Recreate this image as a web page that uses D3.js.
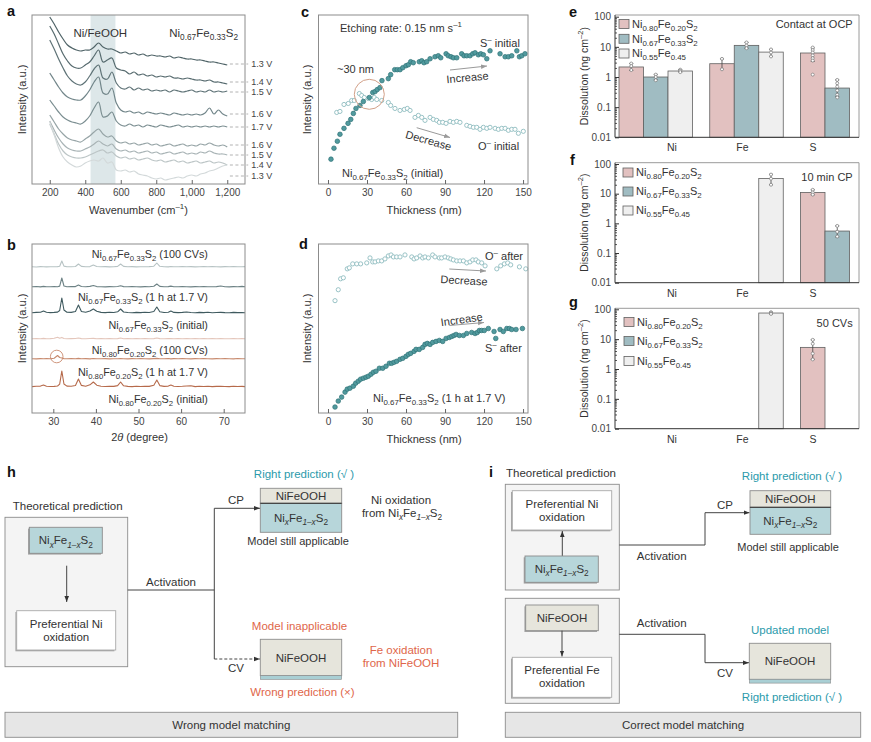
<!DOCTYPE html>
<html><head><meta charset="utf-8">
<script src="https://cdn.jsdelivr.net/npm/d3@7/dist/d3.min.js"></script>
<style>html,body{margin:0;padding:0;background:#fff;}svg{display:block}</style>
</head><body>
<svg id="fig" width="871" height="742"></svg>
<script>
// ================= DATA =================
// Panel a: Raman spectra (offset intensities, a.u.)
const ramanShift = [200,225,250,275,300,325,350,375,400,425,450,475,500,525,550,575,600,625,650,675,700,725,750,775,800,825,850,875,900,925,950,975,1000,1025,1050,1075,1100,1125,1150,1175,1200];
const raman13Va = [167,160,152,145,139,136,134,133,134,134,137,141,137,135,135,133,131,132,130,131,129,130,128,129,128,128,127,128,126,127,126,125,125,124,124,123,122,122,121,120,119];
const raman14Va = [158,150,140,130,123,118,116,116,119,122,128,134,122,124,126,116,114,113,110,112,109,110,108,109,107,108,107,108,106,106,105,106,105,104,104,103,104,102,102,101,100];
const raman15Va = [144,135,125,116,108,103,100,99,102,108,115,119,106,105,112,101,96,95,97,94,96,94,95,93,94,93,94,92,94,93,92,93,94,92,93,92,94,92,93,92,93];
const raman16Va = [111,104,97,91,87,85,84,84,88,94,102,107,91,90,96,81,74,72,73,71,72,70,72,71,70,71,70,69,71,70,69,70,69,70,69,71,76,70,74,70,68];
const raman17V  = [84,78,72,67,64,62,61,60,63,68,76,82,67,68,72,63,59,58,60,58,59,57,59,58,57,59,58,57,58,59,57,58,57,58,57,58,57,58,57,58,57];
const raman16Vb = [69,62,55,50,46,44,43,42,45,48,52,55,50,47,48,43,41,42,40,41,39,40,41,39,40,38,39,40,38,39,40,38,39,38,40,39,41,39,38,39,37];
const raman15Vb = [63,54,46,40,36,34,33,33,35,37,40,43,40,38,40,35,33,34,32,33,31,32,33,31,32,30,31,32,30,31,32,30,31,30,32,31,33,31,30,30,29];
const raman14Vb = [60,50,40,33,29,27,26,26,27,29,31,33,34,31,32,28,26,27,25,26,24,25,26,24,23,24,22,23,24,22,23,21,22,23,21,22,23,21,22,21,19];
const raman13Vb = [62,49,36,27,22,19,17,18,21,23,24,23,26,21,22,14,13,14,12,13,10,9,8,6,5,6,4,5,6,7,6,8,9,8,10,11,13,14,16,18,19];
const ramanLabels = ["1.3 V","1.4 V","1.5 V","1.6 V","1.7 V","1.6 V","1.5 V","1.4 V","1.3 V"];
const ramanLevels = [120,102,92,70,57,39,29,19,8];
const ramanBand = [430,570];
const ramanTicks = [200,400,600,800,1000,1200];

// Panel b: XRD patterns
const xrdTheta = [25,26,27,27.7,28.4,29.3,30.2,31.0,31.5,32.0,32.5,33.2,34.2,35.2,35.9,36.6,37.6,38.6,39.4,40.2,41.2,42.2,43.2,44.2,45.1,45.8,46.5,47.5,48.5,49.5,50.5,51.5,52.5,53.6,54.3,55.0,56.0,57.0,57.6,58.3,59.3,60.3,61.3,62.3,63.3,64.3,65.3,66.3,67.3,68.3,69.3,70.3,71.3,72.3,73.3,74.3,75];
const xrd67CV = [0.3,0.0,0.4,0.3,0.1,0.3,0.2,0.4,0.8,6.0, 0.9,0.3,0.2,0.5,3.0,0.6,0.2,0.4,2.0,0.5, 0.2,0.4,0.1,0.3,0.6,3.0,0.6,0.2,0.4,0.1, 0.3,0.2,0.4,0.8,4.0,0.7,0.3,0.1,0.5,0.2, 0.3,0.5,0.2,0.4,0.1,0.3,0.5,0.2,0.4,0.3, 0.1,0.4,0.2,0.5,0.3,0.2,0.4];
const xrd67CP = [0.2,0.5,0.1,0.6,0.3,0.2,0.4,0.3,0.9,9.0, 1.0,0.3,0.5,0.4,2.0,0.5,0.2,0.6,1.5,0.4, 0.3,0.1,0.4,0.2,0.5,1.2,0.4,0.2,0.5,0.3, 0.1,0.4,0.3,0.7,3.0,0.6,0.2,0.4,0.9,0.3, 0.2,0.5,0.3,0.1,0.4,0.2,0.5,0.3,0.2,0.4, 1.0,0.3,0.1,0.4,0.2,0.6,0.3];
const xrd67In = [0.3,0.6,0.8,2.0,0.7,0.4,0.6,0.9,2.5,15.0, 3.0,0.8,0.6,1.5,8.0,1.5,0.7,2.0,4.0,1.8, 0.6,0.4,0.7,0.5,1.2,4.0,1.0,0.5,0.3,0.6, 0.4,0.7,0.5,1.5,6.0,1.2,0.5,0.8,2.0,0.6, 0.4,0.6,1.0,0.5,0.3,0.6,0.4,0.7,0.3,0.5, 0.6,0.4,0.3,0.6,0.4,0.5,0.3];
const xrd80CV = [0.2,0.4,0.3,0.6,0.3,0.4,0.7,1.8,0.8,1.6, 0.5,0.3,0.4,0.5,1.0,0.4,0.2,0.5,0.6,0.3, 0.4,0.2,0.5,0.3,0.4,1.0,0.3,0.5,0.2,0.4, 0.3,0.5,0.2,0.4,1.0,0.4,0.3,0.5,0.4,0.2, 0.4,0.3,0.5,0.2,0.4,0.3,0.5,0.2,0.4,0.3, 0.5,0.3,0.2,0.4,0.3,0.5,0.2];
const xrd80CP = [0.3,0.1,0.4,0.2,0.5,0.3,0.8,3.5,1.5,1.0, 0.4,0.2,0.5,0.3,0.6,0.2,0.4,0.1,0.5,0.3, 0.2,0.4,0.1,0.3,0.2,0.5,0.3,0.1,0.4,0.2, 0.5,0.3,0.1,0.4,0.6,0.2,0.3,0.5,0.1,0.4, 0.2,0.5,0.3,0.1,0.4,0.2,0.5,0.3,0.1,0.4, 0.2,0.4,0.3,0.1,0.5,0.2,0.3];
const xrd80In = [0.4,0.7,0.9,2.0,0.8,0.5,0.6,1.0,2.8,16.0, 3.0,0.9,0.7,1.5,8.0,1.6,0.8,2.2,5.0,1.8, 0.7,0.5,0.8,0.6,1.4,5.0,1.2,0.6,0.4,0.7, 0.5,0.8,0.6,1.8,7.0,1.4,0.6,0.9,2.0,0.7, 0.5,0.7,1.0,1.2,0.4,0.7,0.5,0.8,0.4,0.6, 0.7,0.5,0.4,0.7,0.5,0.6,0.4];
const xrdOffsets = [146,126,100,74,54,26];
const xrdLabels = ["Ni_{0.67}Fe_{0.33}S_{2} (100 CVs)","Ni_{0.67}Fe_{0.33}S_{2} (1 h at 1.7 V)","Ni_{0.67}Fe_{0.33}S_{2} (initial)","Ni_{0.80}Fe_{0.20}S_{2} (100 CVs)","Ni_{0.80}Fe_{0.20}S_{2} (1 h at 1.7 V)","Ni_{0.80}Fe_{0.20}S_{2} (initial)"];
const xrdLabelLevels = [159,116,88,63,41,14];
const xrdTicks = [30,40,50,60,70];

// Panel c: depth profiles, initial
const sInitT = [2.3,4.6,7.2,9.2,12.3,15.4,17.5,19.5,21.5,24.6,27.2,31.8,34.4,36.2,37.9,40,41.5,46.4,48.2,51.3,53.3,55.4,57.5,60,61.8,63.6,65.6,70.2,72.1,73.8,75.9,78.5,82.3,84.8,86.7,90.8,92.5,94.6,96.4,99,102.8,104.6,106.7,109.2,111.3,113.1,115.6,117.5,119.5,122.1,124.6,132.3,136.2,138.7,141.3,145.2,147.2,149,151.5];
const sInitI = [25,36,43,50,56,61,65,71,76,79,83,87,92,93,95,97,104,106,110,115,115,115,117,119,120,123,122,123,124,122,123,126,128,129,127,131,129,128,127,127,131,129,129,129,131,132,130,131,130,126,134,131,128,128,129,134,128,129,131];
const oInitT = [6.7,9.2,12.3,15.6,18.2,20.2,24.1,25.9,27.9,31,33.6,35.6,37.5,41.3,46.4,48.2,51.5,55.4,58.7,61,63.1,66.9,69.5,72.1,74.6,78.5,81,83.6,85.6,88.2,90.8,93.8,96.4,99,101.5,106.7,109.2,111.8,114.4,116.9,119.5,122.1,124.6,128.5,131,133.6,136.2,138.7,141.3,143.8,146.4,150.2];
const oInitI = [72,73,80,81,84,84,91,89,87,86,85,87,85,84,82,79,76,74,75,76,74,67,69,67,64,67,65,64,62,62,61,63,62,63,62,59,58,57,57,55,57,56,57,56,55,56,56,54,55,55,51,53];
// Panel d: depth profiles, after 1 h at 1.7 V
const oAfterT = [5.4,7.9,9.7,11.8,14.8,16.4,19,22.1,25.1,29.8,32.3,34.4,36.2,38.7,41.3,43.8,46.4,48.5,50.3,52.8,55.4,59.2,64.4,66.2,68.2,70.8,72.8,74.6,77.2,80.5,82.3,85.6,87.4,90,92.5,94.4,96.4,99,101.5,104.1,106.7,109.2,111.3,113.8,115.6,118.2,120.8,129.8,132.8,135.6,138.2,140.5,147.2,152.1];
const oAfterI = [113,124,135,136,145,146,150,150,150,151,156,152,152,153,153,155,158,159,157,157,157,159,157,155,156,158,156,157,156,159,157,156,156,157,156,155,154,153,153,153,151,152,154,154,152,151,148,145,148,150,151,149,147,145];
const sAfterT = [5.4,7.9,10.5,13.1,14.8,16.9,19.5,21.3,23.3,25.1,27.2,29.2,31,33.1,34.9,36.9,39.5,42.1,44.6,47.2,49,50.8,52.8,55.4,57.5,60,61.8,63.6,66.2,67.7,70.2,72.8,74.6,76.4,78.5,80.5,83.1,85.6,88.2,90.8,93.3,95.2,96.9,98.5,101,104.1,106.7,110.5,113.1,114.8,116.4,118.2,120.2,123.3,127.7,129,132.3,134.8,137.5,139.5,141.3,144.6,149.5];
const sAfterI = [6,12,16,21,24,25,27,30,32,34,35,36,37,39,41,42,45,45,47,50,50,51,52,54,55,57,59,60,62,64,64,66,69,70,69,71,72,73,72,75,76,77,78,79,78,78,80,81,80,81,83,83,83,85,82,75,84,82,85,85,84,84,85];
const thickTicks = [0,30,60,90,120,150];

// Panels e-g: dissolution (ng cm^-2)
const dissCats = ["Ni","Fe","S"];
const dissComps = ["Ni_{0.80}Fe_{0.20}S_{2}","Ni_{0.67}Fe_{0.33}S_{2}","Ni_{0.55}Fe_{0.45}"];
const dissTicks = [0.01,0.1,1,10,100];
// e: contact at OCP  (per composition: values for Ni, Fe, S)
const eNi80 = [2.15, 2.76, 6.25];
const eNi67 = [1.0, 11.2, 0.43];
const eNi55 = [1.58, 6.7, null];
const eErr80 = [[1.65,2.8],[1.8,4.0],[3.3,9.2]];
const eErr67 = [[0.8,1.22],[9.0,14.0],[0.22,0.8]];
const eErr55 = [[1.45,1.75],[4.8,8.2],null];
const ePts80 = [[2.8,2.3,1.7],[4.0,1.8],[9.5,7.8,6.5,5.2,4.2,3.5,1.2]];
const ePts67 = [[1.2,1.0,0.78],[14,11,9],[0.8,0.62,0.48,0.36,0.26,0.21]];
const ePts55 = [[1.75,1.6,1.45],[8.2,6.5,4.8],[]];
// f: 10 min CP
const fNi80 = [null, null, 11.0];
const fNi67 = [null, null, 0.55];
const fNi55 = [null, 32.7, null];
const fErr80 = [null,null,[9.2,13.5]];
const fErr67 = [null,null,[0.35,0.82]];
const fErr55 = [null,[20,45],null];
const fPts80 = [[],[],[13.5,11,9.3]];
const fPts67 = [[],[],[0.82,0.52,0.36]];
const fPts55 = [[],[44,32,20],[]];
// g: 50 CVs
const gNi80 = [null, null, 5.3];
const gNi67 = [null, null, null];
const gNi55 = [null, 75, null];
const gErr80 = [null,null,[2.1,9.5]];
const gErr67 = [null,null,null];
const gErr55 = [null,[70,80],null];
const gPts80 = [[],[],[9.5,7,3.3,2.1]];
const gPts67 = [[],[],[]];
const gPts55 = [[],[80,74,70],[]];

// ================= HELPERS =================
const FONT = '"Liberation Sans", Arial, Helvetica, sans-serif';
const svg = d3.select('#fig').attr('font-family', FONT);
const defs = svg.append('defs');
function marker(id, color, size){
  defs.append('marker').attr('id',id).attr('viewBox','0 0 10 10').attr('refX',10).attr('refY',5)
    .attr('markerWidth',size).attr('markerHeight',size).attr('markerUnits','userSpaceOnUse').attr('orient','auto')
    .append('path').attr('d','M0,1.2L10,5L0,8.8Z').attr('fill',color);
}
marker('arrK','#333',6); marker('arrG','#9a9a9a',6);

function rich(sel, str, fs){
  const re = /([_^])\{([^}]*)\}|\*([^*]*)\*|([^_^*]+)/g;
  let m, cur = 0;
  while ((m = re.exec(str)) !== null){
    let t, off = 0, size = fs, ital = false;
    if (m[1]){ t = m[2]; off = m[1]==='_' ? fs*0.28 : -fs*0.4; size = fs*0.72; ital = /x/.test(t); }
    else if (m[3] !== undefined){ t = m[3]; ital = true; }
    else { t = m[4]; }
    const ts = sel.append('tspan').text(t).attr('font-size', size);
    if (ital) ts.attr('font-style','italic');
    if (off !== cur) ts.attr('dy', off - cur);
    cur = off;
  }
  return sel;
}
function txt(g, x, y, str, o={}){
  const fs = o.fs || 10.5;
  const t = g.append('text').attr('x',x).attr('y',y + fs*0.35).attr('font-size',fs)
    .attr('fill', o.fill || '#333').attr('text-anchor', o.anchor || 'start');
  if (o.rotate !== undefined) t.attr('transform', `rotate(${o.rotate},${x},${y})`);
  rich(t, str, fs);
  return t;
}
function letter(x, base, ch){
  svg.append('text').attr('x',x).attr('y',base).attr('font-size',14.5).attr('font-weight','bold').attr('fill','#111').text(ch);
}
function frame(g, x0, y0, x1, y1){
  g.append('rect').attr('x',x0).attr('y',y0).attr('width',x1-x0).attr('height',y1-y0)
    .attr('fill','none').attr('stroke','#8c8c8c').attr('stroke-width',1);
}
function styleAxis(a){
  a.attr('font-family', FONT).attr('font-size',10);
  a.select('.domain').remove();
  a.selectAll('.tick line').attr('stroke','#666');
  a.selectAll('.tick text').attr('fill','#444').attr('font-size',10);
}

// ================= PANEL a =================
(function(){
  const g = svg.append('g');
  const x = d3.scaleLinear().domain([100,1300]).range([32,245]);
  const y = d3.scaleLinear().domain([0,169]).range([184,15]);
  g.append('rect').attr('x',x(ramanBand[0])).attr('y',y(169)).attr('width',x(ramanBand[1])-x(ramanBand[0]))
    .attr('height',y(0)-y(169)).attr('fill','#dde7e9');
  const series = [raman13Va,raman14Va,raman15Va,raman16Va,raman17V,raman16Vb,raman15Vb,raman14Vb,raman13Vb];
  const colors = ["#506468","#576b6f","#5f7377","#72868a","#7b8e91","#96a4a6","#a8b3b5","#bcc5c6","#d3d9da"];
  const line = d3.line().x(d=>x(d[0])).y(d=>y(d[1])).curve(d3.curveCatmullRom.alpha(0.5));
  series.forEach((s,i)=>{
    g.append('path').attr('d', line(d3.zip(ramanShift, s))).attr('fill','none')
      .attr('stroke',colors[i]).attr('stroke-width',1.2).attr('stroke-linejoin','round');
  });
  frame(g,32,15,245,184);
  ramanLevels.forEach((lv,i)=>{
    g.append('line').attr('x1',x(1215)).attr('x2',x(1318)).attr('y1',y(lv)).attr('y2',y(lv))
      .attr('stroke','#a0a0a0').attr('stroke-width',0.8).attr('stroke-dasharray','3,2.5');
    txt(g, x(1335), y(lv), ramanLabels[i], {fs:9, fill:'#444'});
  });
  const ax = g.append('g').attr('transform','translate(0,184)')
    .call(d3.axisBottom(x).tickValues(ramanTicks).tickFormat(d3.format(',')).tickSize(-4).tickPadding(5));
  styleAxis(ax);
  txt(g, x(485), 33, 'Ni/FeOOH', {anchor:'middle', fs:11.5});
  txt(g, 238, 33, 'Ni_{0.67}Fe_{0.33}S_{2}', {anchor:'end', fs:11.5});
  txt(g, 138.5, 210, 'Wavenumber (cm^{–1})', {anchor:'middle', fs:11});
  txt(g, 22, 99.5, 'Intensity (a.u.)', {anchor:'middle', fs:11, rotate:-90});
  letter(7, 16, 'a');
})();

// ================= PANEL b =================
(function(){
  const g = svg.append('g');
  const x = d3.scaleLinear().domain([25,75]).range([32,245]);
  const y = d3.scaleLinear().domain([0,169]).range([413,244]);
  const series = [xrd67CV,xrd67CP,xrd67In,xrd80CV,xrd80CP,xrd80In];
  const colors = ["#b7c3c4","#6d8285","#3f5a5f","#e4c6bb","#c88b6f","#b66a4b"];
  series.forEach((s,i)=>{
    const line = d3.line().x(d=>x(d[0])).y(d=>y(xrdOffsets[i]+d[1]));
    g.append('path').attr('d', line(d3.zip(xrdTheta, s))).attr('fill','none')
      .attr('stroke',colors[i]).attr('stroke-width',1.1).attr('stroke-linejoin','round');
  });
  xrdLabels.forEach((l,i)=> txt(g, x(66.3), y(xrdLabelLevels[i]), l, {anchor:'end', fs:10.8}));
  g.append('circle').attr('cx',x(30.8)).attr('cy',y(xrdOffsets[4]+2.5)).attr('r',6.3)
    .attr('fill','none').attr('stroke','#c98a6e').attr('stroke-width',0.9);
  frame(g,32,244,245,413);
  const ax = g.append('g').attr('transform','translate(0,413)')
    .call(d3.axisBottom(x).tickValues(xrdTicks).tickSize(-4).tickPadding(5));
  styleAxis(ax);
  txt(g, 139.5, 437, '2*θ* (degree)', {anchor:'middle', fs:11});
  txt(g, 22, 328.5, 'Intensity (a.u.)', {anchor:'middle', fs:11, rotate:-90});
  letter(7, 250, 'b');
})();

// ================= PANELS c & d =================
function depthPanel(top, bottom, sT, sI, oT, oI){
  const g = svg.append('g');
  const x = d3.scaleLinear().domain([-7.3,153.8]).range([318.5,528]);
  const y = d3.scaleLinear().domain([0,170]).range([bottom, top]);
  g.selectAll(null).data(d3.zip(oT,oI)).join('circle')
    .attr('cx',d=>x(d[0])).attr('cy',d=>y(d[1])).attr('r',2.1)
    .attr('fill','#fff').attr('stroke','#8fbcbf').attr('stroke-width',0.9);
  g.selectAll(null).data(d3.zip(sT,sI)).join('circle')
    .attr('cx',d=>x(d[0])).attr('cy',d=>y(d[1])).attr('r',2.3)
    .attr('fill','#519a9e').attr('stroke','#2f7377').attr('stroke-width',0.7);
  frame(g,318.5,top,528,bottom);
  const ax = g.append('g').attr('transform',`translate(0,${bottom})`)
    .call(d3.axisBottom(x).tickValues(thickTicks).tickSize(-4).tickPadding(5));
  styleAxis(ax);
  txt(g, 424, bottom+26, 'Thickness (nm)', {anchor:'middle', fs:11});
  txt(g, 307, (top+bottom)/2, 'Intensity (a.u.)', {anchor:'middle', fs:11, rotate:-90});
  return {g, x, y};
}
(function(){
  const {g} = depthPanel(15, 184, sInitT, sInitI, oInitT, oInitI);
  txt(g, 340, 28, 'Etching rate: 0.15 nm s^{–1}', {fs:11});
  txt(g, 480, 43, 'S^{–} initial', {fs:11});
  txt(g, 337, 69, '~30 nm', {fs:11});
  g.append('circle').attr('cx',369.3).attr('cy',94.3).attr('r',15).attr('fill','none')
    .attr('stroke','#d2a088').attr('stroke-width',1);
  g.append('line').attr('x1',450).attr('y1',70).attr('x2',487).attr('y2',66)
    .attr('stroke','#9a9a9a').attr('stroke-width',1).attr('marker-end','url(#arrG)');
  txt(g, 467.5, 77.5, 'Increase', {anchor:'middle', fs:11, rotate:-5});
  g.append('line').attr('x1',416.7).attr('y1',127.7).attr('x2',450).attr('y2',137.5)
    .attr('stroke','#9a9a9a').attr('stroke-width',1).attr('marker-end','url(#arrG)');
  txt(g, 428.5, 140.5, 'Decrease', {anchor:'middle', fs:11, rotate:16});
  txt(g, 478, 146, 'O^{–} initial', {fs:11});
  txt(g, 342, 173, 'Ni_{0.67}Fe_{0.33}S_{2} (initial)', {fs:11});
  letter(301, 17, 'c');
})();
(function(){
  const {g} = depthPanel(244, 413, sAfterT, sAfterI, oAfterT, oAfterI);
  txt(g, 485, 256, 'O^{–} after', {fs:11});
  g.append('line').attr('x1',449.3).attr('y1',269).attr('x2',486).attr('y2',271)
    .attr('stroke','#9a9a9a').attr('stroke-width',1).attr('marker-end','url(#arrG)');
  txt(g, 464, 280.5, 'Decrease', {anchor:'middle', fs:11, rotate:3});
  txt(g, 461.7, 319.5, 'Increase', {anchor:'middle', fs:11, rotate:-8});
  g.append('line').attr('x1',449.3).attr('y1',325.5).attr('x2',484).attr('y2',322.5)
    .attr('stroke','#9a9a9a').attr('stroke-width',1).attr('marker-end','url(#arrG)');
  txt(g, 485, 348, 'S^{–} after', {fs:11});
  txt(g, 373, 398, 'Ni_{0.67}Fe_{0.33}S_{2} (1 h at 1.7 V)', {fs:11});
  letter(299, 249, 'd');
})();

// ================= PANELS e, f, g =================
const compColors = ["#e2c1c0","#a0bcc2","#efefef"];
function dissPanel(cfg){
  const g = svg.append('g');
  const y = d3.scaleLog().domain([0.01,100]).range([cfg.bottom, cfg.y100]);
  const xg = d3.scaleBand().domain(dissCats).range([619, 874]).paddingInner(0.19).paddingOuter(0);
  const x1 = d3.scaleBand().domain([0,1,2]).range([0, xg.bandwidth()]);
  const xl = d3.scalePoint().domain(dissCats).range([672, 813]);
  g.append('path').attr('d',`M615,${cfg.top}H859V${cfg.bottom}`).attr('fill','none').attr('stroke','#9a9a9a');
  cfg.values.forEach((vals, si)=>{
    vals.forEach((v, ci)=>{
      if (v == null) return;
      const bx = xg(dissCats[ci]) + x1(si), bw = x1.bandwidth();
      g.append('rect').attr('x',bx).attr('y',y(v)).attr('width',bw).attr('height',cfg.bottom - y(v))
        .attr('fill',compColors[si]).attr('stroke','#606060').attr('stroke-width',0.8);
      const cx = bx + bw/2;
      const e = cfg.errs[si][ci];
      if (e){
        g.append('line').attr('x1',cx).attr('x2',cx).attr('y1',y(e[0])).attr('y2',y(e[1])).attr('stroke','#444').attr('stroke-width',0.8);
        e.forEach(ev=> g.append('line').attr('x1',cx-2).attr('x2',cx+2).attr('y1',y(ev)).attr('y2',y(ev)).attr('stroke','#444').attr('stroke-width',0.8));
      }
      cfg.pts[si][ci].forEach(p=> g.append('circle').attr('cx',cx).attr('cy',y(p)).attr('r',1.5)
        .attr('fill','#fff').attr('stroke','#777').attr('stroke-width',0.7));
    });
  });
  const ax = g.append('g').attr('transform','translate(615,0)')
    .call(d3.axisLeft(y).tickValues(dissTicks).tickFormat(d=>String(d)).tickSize(-4).tickSizeOuter(0).tickPadding(4));
  styleAxis(ax);
  ax.selectAll('.tick line').attr('stroke','#333');
  const minor = [];
  [0.01,0.1,1,10].forEach(d=>{ for(let k=2;k<=9;k++) minor.push(+(d*k).toPrecision(2)); });
  const am = g.append('g').attr('transform','translate(615,0)')
    .call(d3.axisLeft(y).tickValues(minor).tickFormat('').tickSize(-2).tickSizeOuter(0));
  am.select('.domain').remove(); am.selectAll('.tick line').attr('stroke','#555');
  g.append('line').attr('x1',615).attr('x2',615).attr('y1',cfg.top).attr('y2',cfg.bottom).attr('stroke','#333');
  g.append('line').attr('x1',615).attr('x2',859).attr('y1',cfg.bottom).attr('y2',cfg.bottom).attr('stroke','#333');
  dissCats.forEach(c=> txt(g, xl(c), cfg.bottom+10.5, c, {anchor:'middle', fs:10.5}));
  txt(g, 584, (cfg.top+cfg.bottom)/2, 'Dissolution (ng cm^{–2})', {anchor:'middle', fs:10.5, rotate:-90});
  dissComps.forEach((c,i)=>{
    g.append('rect').attr('x',cfg.legX).attr('y',cfg.legY[i]-4.5).attr('width',10).attr('height',9)
      .attr('fill',compColors[i]).attr('stroke','#606060').attr('stroke-width',0.8);
    txt(g, cfg.legX+13, cfg.legY[i], c, {fs:11});
  });
  txt(g, 852.7, cfg.titleY, cfg.title, {anchor:'end', fs:11});
}
dissPanel({top:15, y100:16.7, bottom:137.3, values:[eNi80,eNi67,eNi55], errs:[eErr80,eErr67,eErr55], pts:[ePts80,ePts67,ePts55],
  legX:619, legY:[24,38.8,53.5], title:'Contact at OCP', titleY:24});
dissPanel({top:162.7, y100:164, bottom:282.7, values:[fNi80,fNi67,fNi55], errs:[fErr80,fErr67,fErr55], pts:[fPts80,fPts67,fPts55],
  legX:623, legY:[172.5,191.5,210.5], title:'10 min CP', titleY:176.7});
dissPanel({top:308.3, y100:309.3, bottom:428.7, values:[gNi80,gNi67,gNi55], errs:[gErr80,gErr67,gErr55], pts:[gPts80,gPts67,gPts55],
  legX:624, legY:[322,341,361], title:'50 CVs', titleY:322.7});
letter(569, 17, 'e');
letter(570, 165, 'f');
letter(569, 307, 'g');

// ================= DIAGRAMS h, i =================
const TEAL = '#2b9aab', RED = '#e0664a';
const C_TEALBOX = '#b7d6da', C_BEIGE = '#e6e5dc', C_OUTER = '#f4f4f4';
const DFS = 11.5;
function rbox(g,x,y,w,h,fill,stroke,shadow){
  if (shadow) g.append('rect').attr('x',x-1.3).attr('y',y+1.3).attr('width',w).attr('height',h).attr('fill','#a5a5a5');
  g.append('rect').attr('x',x).attr('y',y).attr('width',w).attr('height',h).attr('fill',fill).attr('stroke',stroke||'#8c8c8c').attr('stroke-width',0.9);
}
function arrowLine(g, pts, dashed){
  const p = g.append('path').attr('d', d3.line()(pts)).attr('fill','none').attr('stroke','#444').attr('stroke-width',1)
    .attr('marker-end','url(#arrK)');
  if (dashed) p.attr('stroke-dasharray','3,2');
}
function stack(g,x,y,w,h1,h2){
  rbox(g,x,y,w,h1,C_BEIGE,'#8c8c8c',false);
  rbox(g,x,y+h1,w,h2,C_TEALBOX,'#8c8c8c',false);
  g.append('line').attr('x1',x).attr('x2',x+w).attr('y1',y+h1).attr('y2',y+h1).attr('stroke','#333').attr('stroke-width',1);
  txt(g, x+w/2, y+h1/2, 'NiFeOOH', {anchor:'middle', fs:DFS});
  txt(g, x+w/2, y+h1+h2/2, 'Ni_{x}Fe_{1–x}S_{2}', {anchor:'middle', fs:DFS});
}
function oohBox(g,x,y,w,h){
  rbox(g,x,y,w,h,C_BEIGE,'#8c8c8c',false);
  g.append('rect').attr('x',x).attr('y',y+h).attr('width',w).attr('height',3.8).attr('fill','#a9cfd4').attr('stroke','#8c8c8c').attr('stroke-width',0.6);
  txt(g, x+w/2, y+h/2, 'NiFeOOH', {anchor:'middle', fs:DFS});
}
// h
(function(){
  const g = svg.append('g');
  letter(7, 477, 'h');
  txt(g, 67.7, 506, 'Theoretical prediction', {anchor:'middle', fs:DFS});
  rbox(g,5,517.3,122.7,149.4,C_OUTER,'#8c8c8c',false);
  rbox(g,29.3,527.3,73,26,C_TEALBOX,'#8c8c8c',true);
  txt(g, 65.8, 540.3, 'Ni_{x}Fe_{1–x}S_{2}', {anchor:'middle', fs:DFS});
  arrowLine(g, [[66.7,565.7],[66.7,602]]);
  rbox(g,16.7,610.7,99,39.3,'#fff','#aaaaaa',true);
  txt(g, 66.2, 624, 'Preferential Ni', {anchor:'middle', fs:DFS});
  txt(g, 66.2, 636.5, 'oxidation', {anchor:'middle', fs:DFS});
  g.append('path').attr('d','M127.7,590H214.3M214.3,508.3V659').attr('fill','none').attr('stroke','#444').attr('stroke-width',1);
  txt(g, 171, 582.3, 'Activation', {anchor:'middle', fs:DFS});
  arrowLine(g, [[214.3,508.3],[260,508.3]]);
  arrowLine(g, [[214.3,659],[260,659]], true);
  txt(g, 236, 500, 'CP', {anchor:'middle', fs:DFS});
  txt(g, 236, 668.3, 'CV', {anchor:'middle', fs:DFS});
  txt(g, 304, 474, 'Right prediction (√ )', {anchor:'middle', fs:DFS, fill:TEAL});
  stack(g,260.3,488.3,81.4,15,29);
  txt(g, 298, 541.3, 'Model still applicable', {anchor:'middle', fs:11});
  txt(g, 401, 500.3, 'Ni oxidation', {anchor:'middle', fs:DFS});
  txt(g, 402, 513, 'from Ni_{x}Fe_{1–x}S_{2}', {anchor:'middle', fs:DFS});
  txt(g, 299.5, 626, 'Model inapplicable', {anchor:'middle', fs:DFS, fill:RED});
  oohBox(g,260.3,639.3,81.4,36.4);
  txt(g, 401, 650, 'Fe oxidation', {anchor:'middle', fs:DFS, fill:RED});
  txt(g, 401, 663, 'from NiFeOOH', {anchor:'middle', fs:DFS, fill:RED});
  txt(g, 302.5, 692.3, 'Wrong prediction (×)', {anchor:'middle', fs:DFS, fill:RED});
  rbox(g,5,712.3,452.7,25,'#e6e6e6','#8c8c8c',false);
  txt(g, 231.3, 725, 'Wrong model matching', {anchor:'middle', fs:DFS});
})();
// i
(function(){
  const g = svg.append('g');
  letter(489, 477, 'i');
  txt(g, 506, 473.3, 'Theoretical prediction', {fs:DFS});
  rbox(g,505.3,484.3,114,105.7,C_OUTER,'#8c8c8c',false);
  rbox(g,512.3,490.7,99.4,39.3,'#fff','#aaaaaa',true);
  txt(g, 562, 504, 'Preferential Ni', {anchor:'middle', fs:DFS});
  txt(g, 562, 516.7, 'oxidation', {anchor:'middle', fs:DFS});
  arrowLine(g, [[562.3,556],[562.3,531]]);
  rbox(g,525,556,73.3,26.3,C_TEALBOX,'#8c8c8c',true);
  txt(g, 561.7, 569, 'Ni_{x}Fe_{1–x}S_{2}', {anchor:'middle', fs:DFS});
  arrowLine(g, [[619.3,545],[705,545],[705,512.7],[749.5,512.7]]);
  txt(g, 661.7, 556.3, 'Activation', {anchor:'middle', fs:DFS});
  txt(g, 725, 505, 'CP', {anchor:'middle', fs:DFS});
  txt(g, 792, 476, 'Right prediction (√ )', {anchor:'middle', fs:DFS, fill:TEAL});
  stack(g,750,490.7,80.7,16.6,27);
  txt(g, 788, 546.7, 'Model still applicable', {anchor:'middle', fs:11});
  rbox(g,505.3,598.3,114,105,C_OUTER,'#8c8c8c',false);
  rbox(g,525.7,605,72.6,25.7,C_BEIGE,'#8c8c8c',true);
  txt(g, 562, 618, 'NiFeOOH', {anchor:'middle', fs:DFS});
  arrowLine(g, [[562,630.7],[562,656.5]]);
  rbox(g,512.3,657.3,99.4,40,'#fff','#aaaaaa',true);
  txt(g, 562, 670, 'Preferential Fe', {anchor:'middle', fs:DFS});
  txt(g, 562, 683.3, 'oxidation', {anchor:'middle', fs:DFS});
  arrowLine(g, [[619.3,634.3],[705,634.3],[705,662.7],[749,662.7]]);
  txt(g, 661.7, 623.3, 'Activation', {anchor:'middle', fs:DFS});
  txt(g, 725, 673.3, 'CV', {anchor:'middle', fs:DFS});
  txt(g, 790, 630, 'Updated model', {anchor:'middle', fs:DFS, fill:TEAL});
  oohBox(g,749.3,643.3,81.4,36);
  txt(g, 792, 697.3, 'Right prediction (√ )', {anchor:'middle', fs:DFS, fill:TEAL});
  rbox(g,505.3,712.3,355.4,25,'#e6e6e6','#8c8c8c',false);
  txt(g, 683, 725, 'Correct model matching', {anchor:'middle', fs:DFS});
})();
</script>
</body></html>
